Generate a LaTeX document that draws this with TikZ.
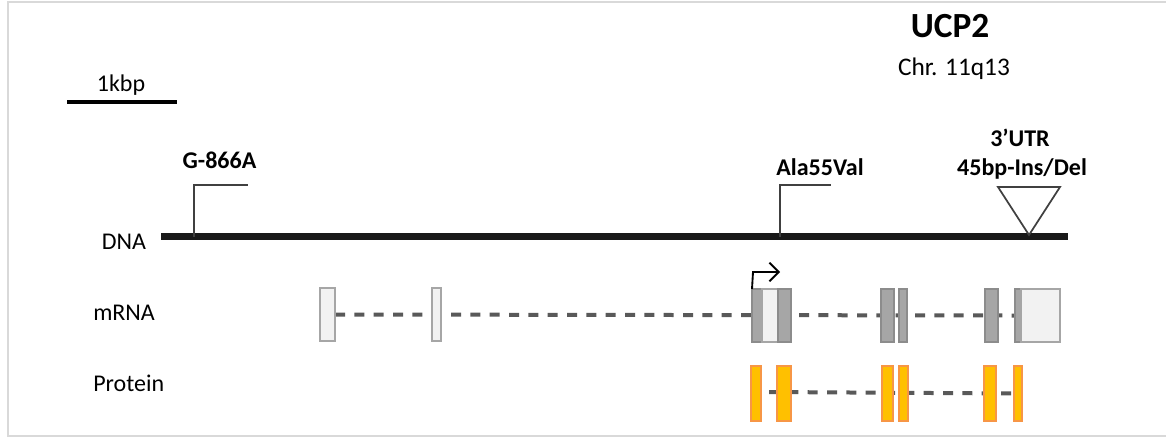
\documentclass[tikz,border=0pt]{standalone}
\usepackage{fontspec}
\setmainfont{Carlito}
\usetikzlibrary{arrows.meta,backgrounds}
\definecolor{frame}{HTML}{D9D9D9}
\definecolor{darkline}{HTML}{595959}
\definecolor{marker}{HTML}{404040}
\definecolor{exondark}{HTML}{A6A6A6}
\definecolor{exondarkline}{HTML}{8C8C8C}
\definecolor{exonlight}{HTML}{F2F2F2}
\definecolor{exonlightline}{HTML}{A6A6A6}
\definecolor{protfill}{HTML}{FFC000}
\definecolor{protline}{HTML}{F79646}
\newcommand\genebox[6]{%
  \node[#6, minimum width={(#3-#2)*0.75pt}, minimum height={(#5-#4)*0.75pt}]
    (#1) at ({(#2+#3)/2},{(#4+#5)/2}) {};}
\tikzset{
  lab/.style={font=\fontsize{18}{20}\selectfont, inner sep=0pt, anchor=base},
  blab/.style={font=\fontsize{18}{20}\selectfont\bfseries, inner sep=0pt, anchor=base},
  exonbase/.style={draw, inner sep=0pt, outer sep=0pt, line width=1.1pt},
  darkex/.style={exonbase, fill=exondark, draw=exondarkline},
  lightex/.style={exonbase, fill=exonlight, draw=exonlightline},
  protex/.style={exonbase, fill=protfill, draw=protline},
  intron/.style={draw=darkline, line width=3pt, dash pattern=on 7.5pt off 7pt},
  snpline/.style={draw=marker, line width=1.3pt},
}
\begin{document}
\begin{tikzpicture}[x=0.75pt,y=-0.75pt]
\useasboundingbox (0,0) rectangle (1166,439);
\draw[frame, line width=1.6pt] (8,2) rectangle (1170,436);

% titles
\node[font=\fontsize{26.5}{28}\selectfont\bfseries, inner sep=0pt, anchor=base] (title) at (950,37) {UCP2};
\node[font=\fontsize{19}{20}\selectfont, inner sep=0pt, anchor=base] (chr) at (954,75) {Chr. 11q13};

% scale bar
\node[lab] (kbp) at (121,91) {1kbp};
\coordinate (sb1) at (67,102);
\coordinate (sb2) at (177,102);
\draw[line width=3pt, black] (sb1) -- (sb2);

% row labels
\node[lab] (dnal) at (124,249) {DNA};
\node[lab, anchor=base west] (mrnal) at (93,320) {mRNA};
\node[lab, anchor=base west] (protl) at (93,391) {Protein};

% DNA line
\coordinate (dna1) at (161,236.5);
\coordinate (dna2) at (1068,236.5);
\draw[line width=5.3pt, black!90] (dna1) -- (dna2);

% G-866A marker
\coordinate (g0) at (194,236.5);
\coordinate (g1) at (194,185);
\coordinate (g2) at (248,185);
\draw[snpline] (g0) -- (g1) -- (g2);
\node[blab] (glab) at (219.5,168) {G-866A};

% Ala55Val marker
\coordinate (a0) at (780,236.5);
\coordinate (a1) at (780,185);
\coordinate (a2) at (831,185);
\draw[snpline] (a0) -- (a1) -- (a2);
\node[blab] (alab) at (820,175) {Ala55Val};

% 3'UTR triangle
\coordinate (t1) at (998,187);
\coordinate (t2) at (1060,187);
\coordinate (t3) at (1029,235);
\draw[snpline, line join=miter] (t1) -- (t2) -- (t3) -- cycle;
\node[blab] (ulab1) at (1020,146) {3’UTR};
\node[blab] (ulab2) at (1022,175) {45bp-Ins/Del};

% mRNA exons
\genebox{m1}{320}{335}{288}{341}{lightex}
\genebox{m2}{432}{441}{288}{341}{lightex}
\genebox{m3a}{752}{762}{289}{342}{darkex}
\genebox{m3b}{762}{778}{289}{342}{lightex}
\genebox{m3c}{778}{791}{289}{342}{darkex}
\genebox{m4}{881}{894}{289}{342}{darkex}
\genebox{m5}{899}{907}{289}{342}{darkex}
\genebox{m6}{985}{998}{289}{342}{darkex}
\genebox{m7a}{1015}{1021}{289}{342}{darkex}
\genebox{m7b}{1021}{1060}{289}{342}{lightex}
\begin{scope}[on background layer]
  \draw[intron] (m1.east) -- (m7a.west);
\end{scope}

% transcription start arrow
\coordinate (ts1) at (753,272);
\coordinate (ts2) at (780,272);
\draw[line width=1.4pt, black, -{Straight Barb[length=7pt,width=14pt]}] (m3a.north west) -- (ts1) -- (ts2);

% protein exons
\genebox{p1}{751}{761}{366}{421}{protex}
\genebox{p2}{777}{791}{366}{421}{protex}
\genebox{p3}{882}{893}{366}{421}{protex}
\genebox{p4}{899}{908}{366}{421}{protex}
\genebox{p5}{984}{996}{366}{421}{protex}
\genebox{p6}{1014}{1022}{366}{421}{protex}
\coordinate (pstart) at (769,392);
\begin{scope}[on background layer]
  \draw[intron] (pstart) -- (p6.west);
\end{scope}
\end{tikzpicture}
\end{document}
